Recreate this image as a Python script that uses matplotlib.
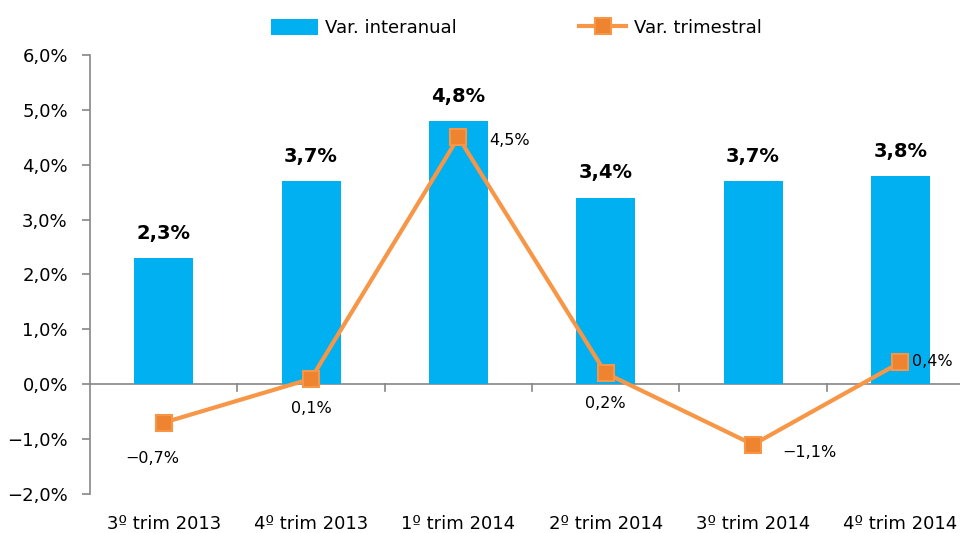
import matplotlib.pyplot as plt
import numpy as np

categorias = ["3º trim 2013", "4º trim 2013", "1º trim 2014", "2º trim 2014", "3º trim 2014", "4º trim 2014"]
interanual = [2.3, 3.7, 4.8, 3.4, 3.7, 3.8]
trimestral = [-0.7, 0.1, 4.5, 0.2, -1.1, 0.4]

azul = "#00B0F0"
naranja = "#F79646"

fig = plt.figure(figsize=(9.6, 5.33), dpi=100)
ax = fig.add_axes([0.09375, 0.0732, 0.921, 0.8236])

x = np.arange(len(categorias))
barras = ax.bar(x, interanual, width=0.4, color=azul, label="Var. interanual", zorder=2)
linea, = ax.plot(x, trimestral, color=naranja, lw=3, marker="s", markersize=11,
                 markerfacecolor="#EE8430", markeredgecolor=naranja, markeredgewidth=1.5,
                 label="Var. trimestral", zorder=3)

def fmt(v):
    return f"{v:.1f}%".replace(".", ",").replace("-", "\u2212")

# etiquetas de las barras
for xi, v in zip(x, interanual):
    ax.text(xi, v + 0.45, fmt(v), ha="center", va="center", fontsize=14, fontweight="bold")

# etiquetas de la linea
offsets = [(-0.08, -0.65, "center"), (0.0, -0.54, "center"), (0.35, -0.06, "center"),
           (0.0, -0.55, "center"), (0.38, -0.14, "center"), (0.08, 0.02, "left")]
for xi, v, (dx, dy, ha) in zip(x, trimestral, offsets):
    ax.text(xi + dx, v + dy, fmt(v), ha=ha, va="center", fontsize=11.5)

ax.set_xlim(-0.5, 5.5)
ax.set_ylim(-2, 6)
ax.set_yticks(np.arange(-2, 7, 1))
ax.set_yticklabels([fmt(v) for v in np.arange(-2, 7, 1)], fontsize=13)

for s in ["top", "right", "bottom"]:
    ax.spines[s].set_visible(False)
ax.spines["left"].set_color("#868686")
ax.spines["left"].set_linewidth(1.2)
ax.axhline(0, color="#868686", lw=1.2, zorder=1)
ax.tick_params(axis="y", length=6, color="#868686", width=1.2, pad=10)

# ticks en los limites de categoria sobre el eje 0
ax.set_xticks([])
for b in np.arange(0.5, 5.5, 1):
    ax.plot([b, b], [0, -0.12], color="#868686", lw=1.2, zorder=1)
for xi, c in zip(x, categorias):
    ax.text(xi, -2.55, c, ha="center", va="center", fontsize=13)

ax.legend([barras, linea], ["Var. interanual", "Var. trimestral"],
          loc="upper center", bbox_to_anchor=(0.482, 1.12), ncol=2, frameon=False,
          fontsize=13, columnspacing=6.8, handlelength=2.6, handleheight=1.0,
          handletextpad=0.4)

fig.savefig("out.png", dpi=100)
